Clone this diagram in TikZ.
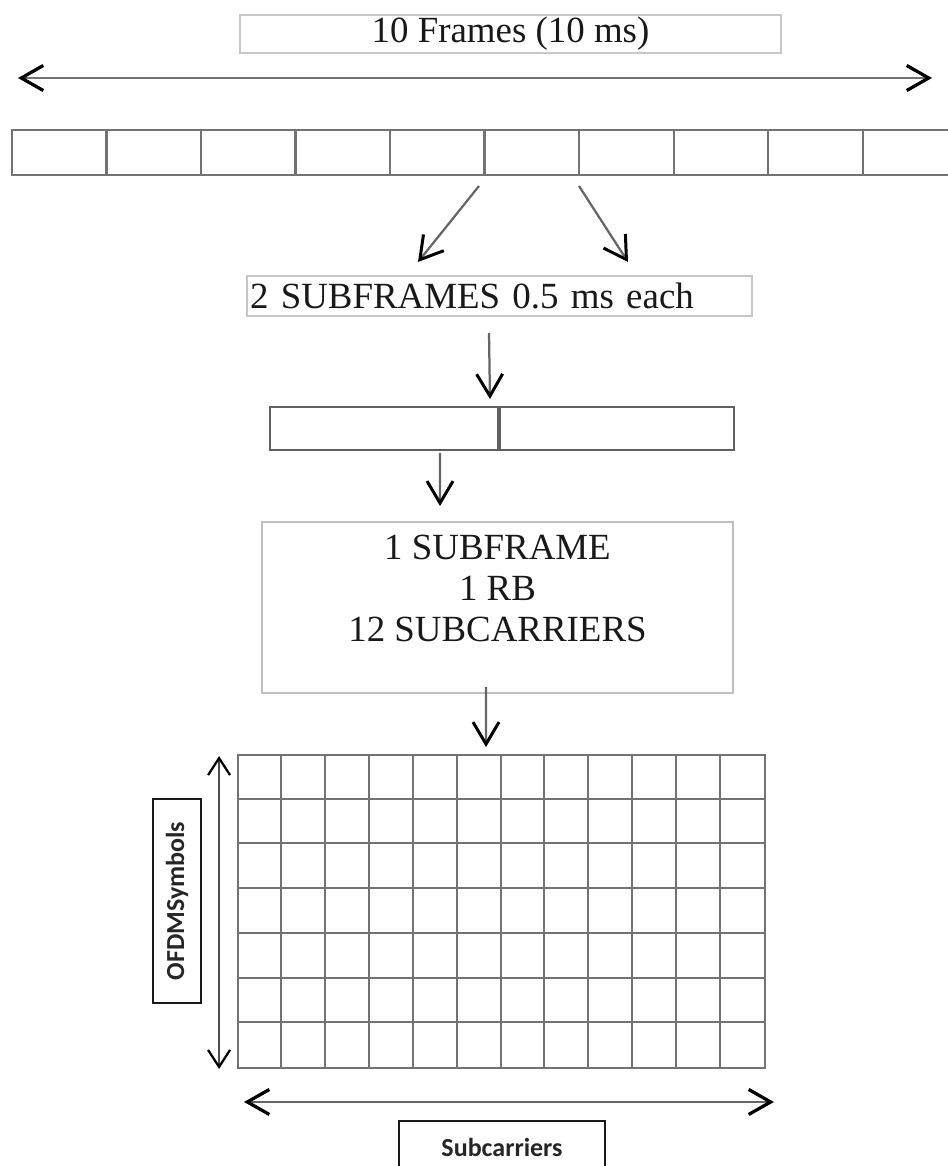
\documentclass[tikz,border=0pt]{standalone}
\usepackage{fontspec}
\setmainfont{Liberation Serif}
\newfontfamily\labelfont{Carlito}
\usepackage{xcolor}
\usepackage{tikz}
\usetikzlibrary{arrows.meta,positioning}

\begin{document}
\begin{tikzpicture}[
  x=0.02cm, y=-0.02cm,
  box/.style={draw=black!22, line width=0.04cm, inner sep=0pt, align=center, font=\fontsize{21}{23.3}\selectfont, text=black!90},
  cell/.style={draw=black!55, line width=0.04cm, inner sep=0pt, minimum height=0.9cm},
  tag/.style={draw=black!90, line width=0.045cm, inner sep=0pt, font=\labelfont\bfseries\fontsize{14.8}{18}\selectfont, text=black!85},
  gridline/.style={black!55, line width=0.04cm},
  arrow/.style={black!60, line width=0.045cm, -{Straight Barb[length=0.44cm, width=0.52cm, line width=0.06cm, color=black]}},
  twoway/.style={black!55, line width=0.055cm, {Straight Barb[length=0.44cm, width=0.5cm, line width=0.065cm, color=black]}-{Straight Barb[length=0.44cm, width=0.5cm, line width=0.065cm, color=black]}},
  thin twoway/.style={black!70, line width=0.04cm, {Straight Barb[length=0.34cm, width=0.44cm, line width=0.045cm, color=black]}-{Straight Barb[length=0.34cm, width=0.44cm, line width=0.045cm, color=black]}}
]
\useasboundingbox (0,0) rectangle (947,1166);

% frame level
\node[box, minimum width=10.82cm, minimum height=0.76cm] (frames) at (510.5,34) {10 Frames (10 ms)};
\coordinate (spanL) at (18,78);
\coordinate (spanR) at (932,78);
\draw[twoway] (spanL) -- (spanR);
\foreach \i in {1,...,10}
  \node[cell, minimum width=1.89cm] (f\i) at ({12+94.5*(\i-0.5)},152.5) {};

% subframes
\node[box, text width=9.98cm, align=left, inner xsep=0.06cm, minimum height=0.8cm] (subs) at (499.5,296) {2 SUBFRAMES 0.5 ms each};
\coordinate (subL) at (418,262);
\coordinate (subR) at (628,262);
\draw[arrow] ([xshift=-0.09cm, yshift=-0.2cm]f6.south west) -- (subL);
\draw[arrow] ([xshift=-0.02cm, yshift=-0.2cm]f6.south east) -- (subR);

\node[cell, draw=black!62, minimum width=4.56cm, minimum height=0.86cm] (h1) at (384,428.5) {};
\node[cell, draw=black!62, minimum width=4.68cm, minimum height=0.86cm, right=0cm of h1] (h2) {};
\draw[arrow] ([xshift=-0.21cm, yshift=-0.32cm]subs.south) -- ([xshift=-0.18cm, yshift=0.14cm]h2.north west);

% resource block
\node[box, draw=black!25, minimum width=9.42cm, minimum height=3.42cm] (rb) at (497.5,607.5) {};
\node[box, draw=none, below=0.26cm of rb.north] (rbtext) {1 SUBFRAME\\1 RB\\12 SUBCARRIERS};
\draw[arrow] ([xshift=1.12cm, yshift=-0.04cm]h1.south) -- ([xshift=-1.15cm, yshift=0.3cm]rb.north);

\node[cell, minimum width=10.54cm, minimum height=6.26cm] (rbgrid) at (501.5,911.5) {};
\foreach \c in {1,...,11}
  \draw[gridline] ([xshift=\c*0.87833cm]rbgrid.north west) -- ([xshift=\c*0.87833cm]rbgrid.south west);
\foreach \r in {1,...,6}
  \draw[gridline] ([yshift=-\r*0.89429cm]rbgrid.north west) -- ([yshift=-\r*0.89429cm]rbgrid.north east);
\draw[arrow] ([xshift=-0.23cm, yshift=0.14cm]rb.south) -- ([xshift=-0.31cm, yshift=0.14cm]rbgrid.north);

% axes of the grid
\draw[thin twoway] ([xshift=-0.36cm, yshift=-0.04cm]rbgrid.north west) -- ([xshift=-0.36cm]rbgrid.south west);
\node[tag, rotate=90, minimum width=4.08cm, minimum height=0.96cm] (symbols) at (177,901) {OFDMSymbols};
\draw[twoway, line width=0.045cm, black!60] ([xshift=0.14cm, yshift=-0.66cm]rbgrid.south west) -- ([xshift=0.16cm, yshift=-0.66cm]rbgrid.south east);
\node[tag, minimum width=4.12cm, minimum height=1.04cm] (carriers) at (502,1147) {Subcarriers};
\end{tikzpicture}
\end{document}
